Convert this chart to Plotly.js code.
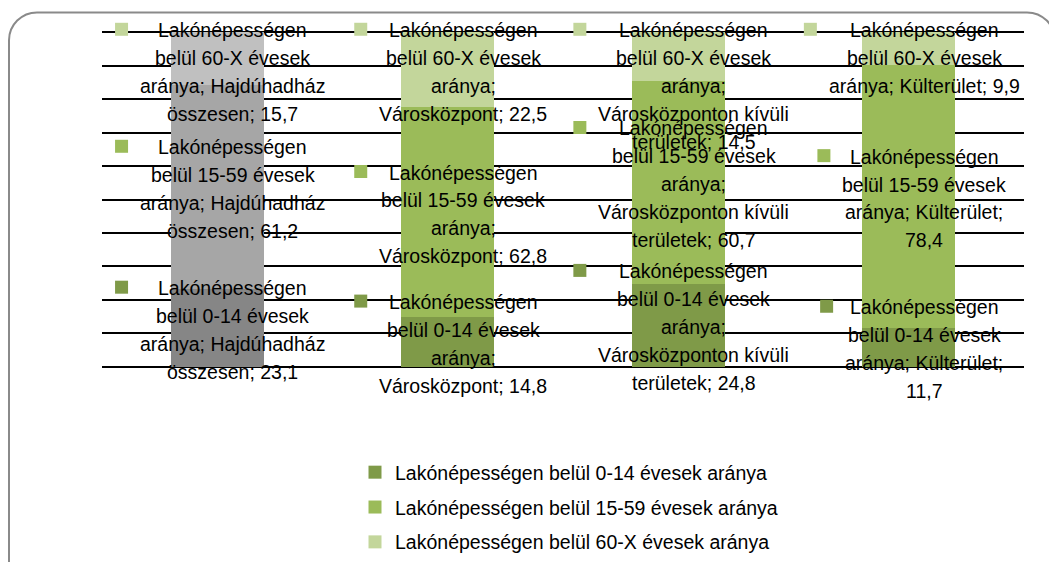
<!DOCTYPE html>
<html><head><meta charset="utf-8">
<script src="https://cdn.plot.ly/plotly-3.0.1.min.js"></script>
<style>html,body{margin:0;padding:0;background:#fff;overflow:hidden}</style>
</head><body><div id="chart" style="width:1049px;height:562px"></div>
<script>
// ---- data ----
const categories = ["Hajdúhadház összesen", "Városközpont", "Városközponton kívüli területek", "Külterület"];
const seriesNames = [
  "Lakónépességen belül 0-14 évesek aránya",
  "Lakónépességen belül 15-59 évesek aránya",
  "Lakónépességen belül 60-X évesek aránya"
];
const age0_14  = [23.1, 14.8, 24.8, 11.7];
const age15_59 = [61.2, 62.8, 60.7, 78.4];
const age60_X  = [15.7, 22.5, 14.5, 9.9];
const seriesValues = [age0_14, age15_59, age60_X];

// ---- style ----
const seriesColors = ["#7f9a48", "#9bbb59", "#c3d69b"];
const firstBarColors = ["#868686", "#a6a6a6", "#c0c0c0"];
const FONT = "Liberation Sans, Arial, sans-serif";
const FS = 19.5;
const W = 1049, H = 562;
const Y_MIN = -1, Y_MAX = 101;
const mL = 102, mR = 25, mT = 28.65, mB = 191.65;
const plotW = W - mL - mR, plotH = H - mT - mB;
const LINE_PITCH = 27.9, TEXT_DX = 15.5, MAX_W = 9.89 * FS, TOP_LINE_MIN = 30, CENTER_DY = 2;

const ctx = document.createElement('canvas').getContext('2d');
ctx.font = FS + 'px "Liberation Sans"';
function wrap(str) {
  const words = str.split(' ');
  const lines = [];
  let cur = '';
  for (const w of words) {
    const t = cur ? cur + ' ' + w : w;
    if (cur && ctx.measureText(t).width > MAX_W) { lines.push(cur); cur = w; }
    else cur = t;
  }
  if (cur) lines.push(cur);
  return lines;
}
const fmt = v => v.toFixed(1).replace('.', ',');

const traces = [];
seriesValues.forEach((vals, si) => {
  traces.push({
    type: 'bar', x: categories, y: vals, name: seriesNames[si],
    showlegend: false, hoverinfo: 'skip',
    marker: { color: categories.map((c, ci) => ci === 0 ? firstBarColors[si] : seriesColors[si]), line: { width: 0 } }
  });
});
seriesNames.forEach((nm, si) => {
  traces.push({
    type: 'scatter', mode: 'markers', x: [null], y: [null], name: nm,
    legendgroup: 'g' + si, showlegend: true, hoverinfo: 'skip',
    marker: { symbol: 'square', size: 13, color: seriesColors[si] }
  });
});

const annotations = [], shapes = [];
const pxPerUnit = plotH / (Y_MAX - Y_MIN);
const nCat = categories.length;
categories.forEach((cat, ci) => {
  const total = seriesValues.reduce((a, s) => a + s[ci], 0);
  let base = 0;
  seriesValues.forEach((vals, si) => {
    const v = vals[ci] / total * 100;
    const mid = base + v / 2; base += v;
    const lines = wrap(seriesNames[si] + '; ' + cat + '; ' + fmt(vals[ci]));
    const n = lines.length;
    const midPx = mT + (Y_MAX - mid) * pxPerUnit;
    const firstPx = Math.max(midPx + CENTER_DY - (n - 1) * LINE_PITCH / 2, TOP_LINE_MIN);
    const maxLineW = Math.max(...lines.map(l => ctx.measureText(l).width));
    lines.forEach((ln, i) => {
      annotations.push({
        xref: 'x', yref: 'y', x: ci, y: mid, text: ln, showarrow: false,
        xanchor: 'center', yanchor: 'middle',
        xshift: TEXT_DX, yshift: midPx - (firstPx + i * LINE_PITCH),
        font: { family: FONT, size: FS, color: '#000' }
      });
    });
    const left = TEXT_DX - maxLineW / 2 - 25;
    // legend key of the label (paper refs so it is not clipped at the plot edge)
    shapes.push({
      type: 'rect', xref: 'paper', yref: 'paper', xsizemode: 'pixel', ysizemode: 'pixel',
      xanchor: (ci + 0.5) / nCat, yanchor: (mid - Y_MIN) / (Y_MAX - Y_MIN),
      x0: left, x1: left + 13,
      y0: midPx - (firstPx + 5.5), y1: midPx - (firstPx - 7.5),
      fillcolor: seriesColors[si], line: { width: 0 }, layer: 'above'
    });
  });
});

// rounded outer frame
const px2x = px => (px - mL) / plotW;
const px2y = py => (mT + plotH - py) / plotH;
const k = 0.552 * 28;
const P = (x, y) => px2x(x) + ',' + px2y(y);
shapes.push({
  type: 'path', xref: 'paper', yref: 'paper',
  path: 'M' + P(9, 620) + ' L' + P(9, 40) + ' C' + P(9, 40 - k) + ' ' + P(37 - k, 12) + ' ' + P(37, 12) +
        ' L' + P(1027, 12) + ' C' + P(1027 + k, 12) + ' ' + P(1055, 40 - k) + ' ' + P(1055, 40) + ' L' + P(1055, 620),
  line: { color: '#8a8a8a', width: 2 }, layer: 'above'
});

const layout = {
  width: W, height: H,
  margin: { l: mL, r: mR, t: mT, b: mB, pad: 0, autoexpand: false },
  paper_bgcolor: '#ffffff', plot_bgcolor: 'rgba(0,0,0,0)',
  barmode: 'stack', barnorm: 'percent', bargap: 0.597,
  font: { family: FONT, size: FS, color: '#000' },
  xaxis: { type: 'category', showticklabels: false, showgrid: false, zeroline: false, showline: false, ticks: '' },
  yaxis: { range: [Y_MIN, Y_MAX], tick0: 0, dtick: 10, showticklabels: false, showgrid: true, gridcolor: '#000', gridwidth: 2, zeroline: false, showline: false, ticks: '' },
  showlegend: true,
  legend: {
    orientation: 'v', xref: 'container', yref: 'container',
    x: 355 / W, xanchor: 'left', y: 1 - 453 / H, yanchor: 'top',
    traceorder: 'grouped', tracegroupgap: 6.5,
    font: { family: FONT, size: FS, color: '#000' }, bgcolor: 'rgba(0,0,0,0)', borderwidth: 0
  },
  annotations: annotations,
  shapes: shapes
};
Plotly.newPlot('chart', traces, layout, { displayModeBar: false, staticPlot: true });
</script></body></html>
